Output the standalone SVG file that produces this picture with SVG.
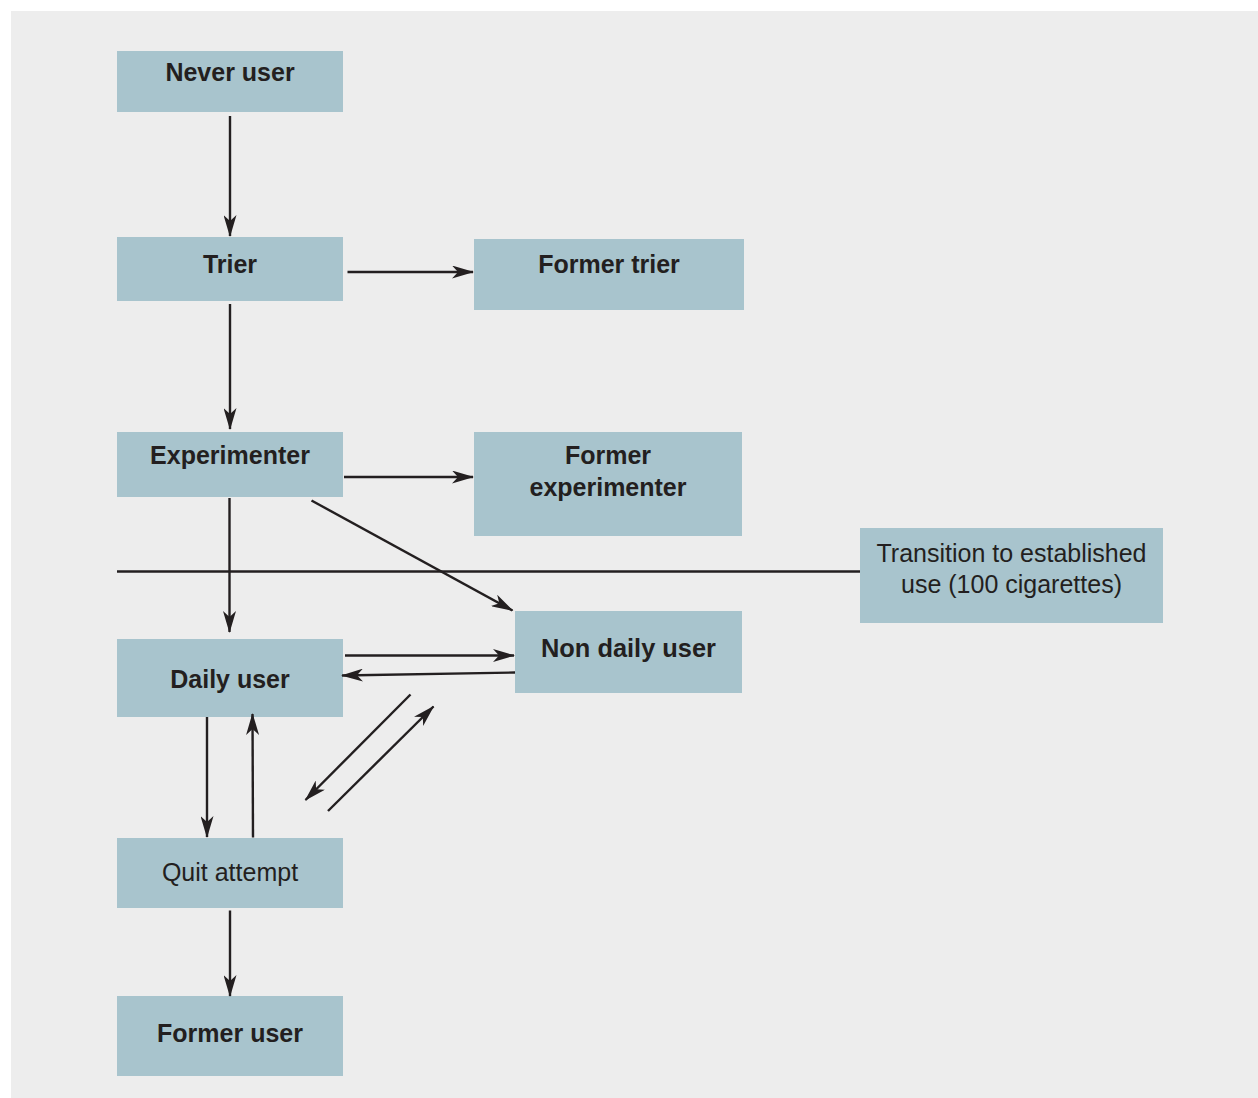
<svg xmlns="http://www.w3.org/2000/svg" width="1258" height="1098" viewBox="0 0 1258 1098">
<style>
.box{fill:#a8c4cd}
.b{font-family:"Liberation Sans",Arial,sans-serif;font-weight:bold;font-size:25px;fill:#231f20;text-anchor:middle}
.n{font-family:"Liberation Sans",Arial,sans-serif;font-size:25px;fill:#231f20;text-anchor:middle}
.c{stroke:#231f20;stroke-width:2.4;fill:none}
</style>
<defs>
<marker id="ah" markerUnits="userSpaceOnUse" markerWidth="22" markerHeight="13" refX="21" refY="6.5" orient="auto" viewBox="0 0 22 13">
<path d="M0,0 L22,6.5 L0,13 L6,6.5 z" fill="#231f20"/>
</marker>
</defs>
<rect x="11" y="11" width="1247" height="1087" fill="#ededed"/>
<g id="never-user"><rect class="box" x="117" y="51" width="226" height="61"/><text class="b" x="230" y="81">Never user</text></g>
<g id="trier"><rect class="box" x="117" y="237" width="226" height="64"/><text class="b" x="230" y="273">Trier</text></g>
<g id="former-trier"><rect class="box" x="474" y="239" width="270" height="71"/><text class="b" x="609" y="273">Former trier</text></g>
<g id="experimenter"><rect class="box" x="117" y="432" width="226" height="65"/><text class="b" x="230" y="464">Experimenter</text></g>
<g id="former-experimenter"><rect class="box" x="474" y="432" width="268" height="104"/><text class="b" x="608" y="464">Former</text><text class="b" x="608" y="496">experimenter</text></g>
<g id="transition"><rect class="box" x="860" y="528" width="303" height="95"/><text class="n" x="1011.5" y="562">Transition to established</text><text class="n" x="1011.5" y="593">use (100 cigarettes)</text></g>
<g id="non-daily-user"><rect class="box" x="515" y="611" width="227" height="82"/><text class="b" x="628.5" y="657" textLength="175" lengthAdjust="spacingAndGlyphs">Non daily user</text></g>
<g id="daily-user"><rect class="box" x="117" y="639" width="226" height="78"/><text class="b" x="230" y="688">Daily user</text></g>
<g id="quit-attempt"><rect class="box" x="117" y="838" width="226" height="70"/><text class="n" x="230" y="881">Quit attempt</text></g>
<g id="former-user"><rect class="box" x="117" y="996" width="226" height="80"/><text class="b" x="230" y="1042">Former user</text></g>
<g id="connectors">
<line class="c" x1="117" y1="571.5" x2="860" y2="571.5"/>
<line class="c" x1="230" y1="116" x2="230" y2="236" marker-end="url(#ah)"/>
<line class="c" x1="347.5" y1="272" x2="473" y2="272" marker-end="url(#ah)"/>
<line class="c" x1="230" y1="304" x2="230" y2="429" marker-end="url(#ah)"/>
<line class="c" x1="344" y1="477" x2="473" y2="477" marker-end="url(#ah)"/>
<line class="c" x1="229.5" y1="498" x2="229.5" y2="632" marker-end="url(#ah)"/>
<line class="c" x1="311.5" y1="500.5" x2="512.5" y2="610.5" marker-end="url(#ah)"/>
<line class="c" x1="345" y1="655.5" x2="514" y2="655.5" marker-end="url(#ah)"/>
<line class="c" x1="515" y1="672.5" x2="342" y2="675.5" marker-end="url(#ah)"/>
<line class="c" x1="410.5" y1="694.5" x2="305.5" y2="800" marker-end="url(#ah)"/>
<line class="c" x1="328" y1="811" x2="433.5" y2="706.5" marker-end="url(#ah)"/>
<line class="c" x1="207" y1="717" x2="207" y2="837" marker-end="url(#ah)"/>
<line class="c" x1="253" y1="837.5" x2="252.5" y2="714" marker-end="url(#ah)"/>
<line class="c" x1="230" y1="910.5" x2="230" y2="996" marker-end="url(#ah)"/>
</g>
</svg>
